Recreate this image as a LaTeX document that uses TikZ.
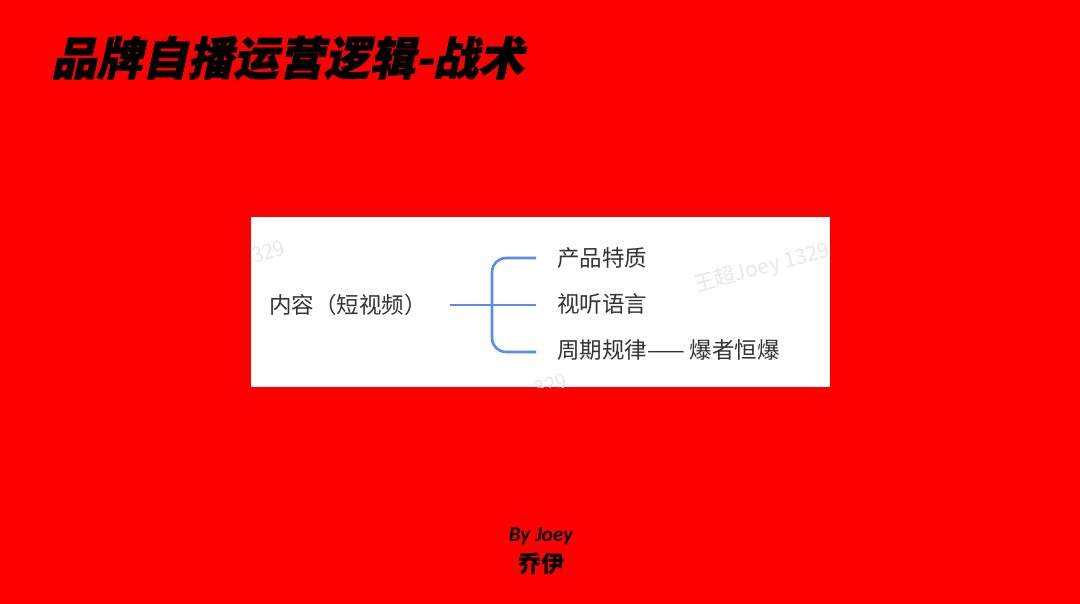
\documentclass[tikz,border=0pt]{standalone}
\usepackage{fontspec}
\setmainfont{Carlito}
\newfontfamily\cjk{Noto Sans CJK SC}
\newfontfamily\titlefont[FakeSlant=0.22, FakeBold=1.5]{Noto Sans CJK SC}
\definecolor{bgred}{HTML}{FF0000}
\definecolor{txt}{HTML}{333333}
\definecolor{bline}{HTML}{5B8BF0}
\definecolor{wm}{HTML}{E8E8E8}
\tikzset{
  mm/.style={anchor=west, inner sep=0pt, text=txt, font=\cjk\fontsize{22.5}{22.5}\selectfont},
  bl/.style={draw=bline, line width=2.6pt},
  wmark/.style={text=wm, font=\sffamily\fontsize{23}{23}\selectfont, rotate=15, inner sep=0pt}
}
\begin{document}
\begin{tikzpicture}[x=1pt,y=-1pt]
\fill[bgred] (0,0) rectangle (1080,604);
\useasboundingbox (0,0) rectangle (1080,604);
\node[anchor=west, inner sep=0pt] (title) at (51,58) {\titlefont\bfseries\fontsize{45.5}{45.5}\selectfont 品牌自播运营逻辑-战术};
\node[fill=white, minimum width=579pt, minimum height=170pt, anchor=north west, inner sep=0pt] (panel) at (251,217) {};
\begin{scope}
\clip (251,217) rectangle (830,387);
\node[wmark] (w1) at (268,252) {329};
\node[wmark, font=\cjk\fontsize{21}{21}\selectfont] (w2) at (762,268) {王超Joey 1329};
\node[wmark, anchor=north] (w3) at (548,377) {329};
\end{scope}
\node[mm] (root) at (269,305) {内容（短视频）};
\node[mm] (a) at (557,258) {产品特质};
\node[mm] (b) at (557,304) {视听语言};
\node[mm] (c) at (557,350) {周期规律—— 爆者恒爆};
\coordinate (s) at (450,305);
\coordinate (ae) at (536,258);
\coordinate (be) at (536,305);
\coordinate (ce) at (536,352);
\draw[bl] (s) -- (be);
\draw[bl, rounded corners=14pt] (ae) -| (492,352) -- (ce);
\node[inner sep=0pt, font=\bfseries\itshape\fontsize{21}{21}\selectfont] (by) at (541,536) {By Joey};
\node[inner sep=0pt, font=\cjk\bfseries\fontsize{23}{23}\selectfont] (qy) at (541,564) {乔伊};
\end{tikzpicture}
\end{document}
